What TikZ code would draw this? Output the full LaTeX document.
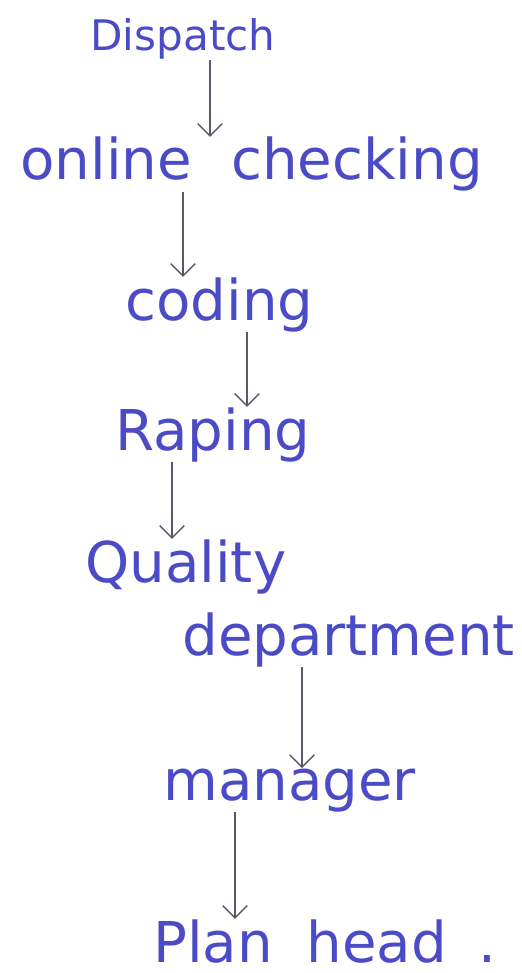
\documentclass[tikz,border=0pt]{standalone}
\usepackage{fontspec}
\setmainfont{DejaVu Sans}
\usepackage{tikz}
\usetikzlibrary{arrows.meta}
\usepackage{xcolor}
\definecolor{ink}{HTML}{4B4BC8}
\definecolor{pencil}{HTML}{5A5A66}

\begin{document}
\begin{tikzpicture}[x=0.02cm,y=-0.02cm,
    stage/.style={text=ink,inner sep=0pt,anchor=base west,font=\fontsize{32}{36}\selectfont},
    flow/.style={pencil,line width=0.8pt,-{Straight Barb[length=7pt,width=14pt]}}]
  \useasboundingbox (0,0) rectangle (521,973);
  % stages, placed at their baselines (pixel units)
  \node[stage,font=\fontsize{24}{28}\selectfont] (disp) at (90,51) {Dispatch};
  \node[stage] (online) at (20,180) {online\hspace{0.7em}checking};
  \node[stage] (coding) at (125,320) {coding};
  \node[stage] (raping) at (115,450) {Raping};
  \node[stage] (quality) at (85,582) {Quality};
  \node[stage] (dept) at (182,655) {department};
  \node[stage] (manager) at (163,800) {manager};
  \node[stage] (plan) at (153,962) {Plan\hspace{0.6em}head\hspace{0.55em}.};
  % arrows
  \draw[flow] (210,0 |- disp.south) -- (210,0 |- online.north);
  \draw[flow] (183,0 |- online.south) -- (183,0 |- coding.north);
  \draw[flow] (247,0 |- coding.south) -- (247,0 |- raping.north);
  \draw[flow] (172,0 |- raping.south) -- (172,0 |- quality.north);
  \draw[flow] (302,0 |- dept.south) -- (302,0 |- manager.north);
  \draw[flow] (235,0 |- manager.south) -- (235,0 |- plan.north);
\end{tikzpicture}
\end{document}
